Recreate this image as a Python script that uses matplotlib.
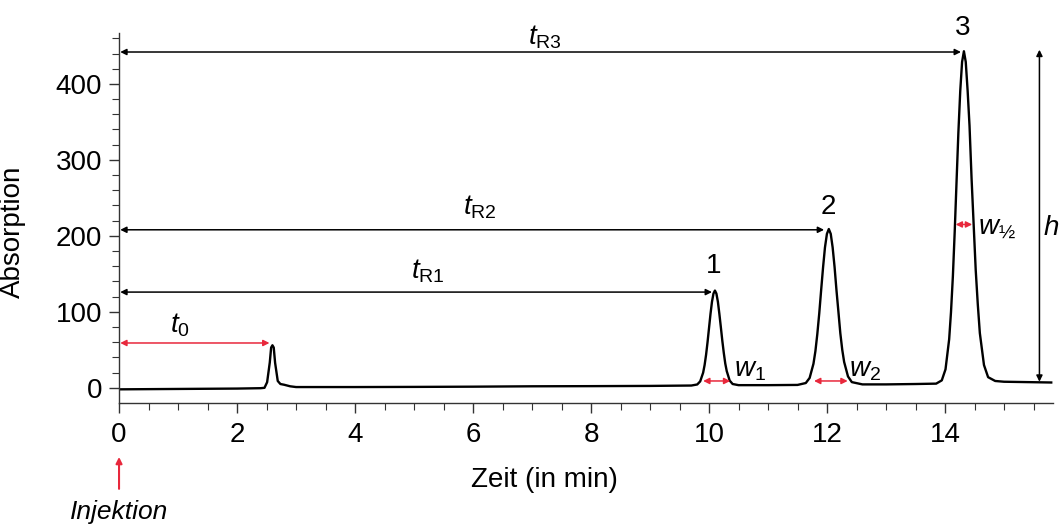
import matplotlib.pyplot as plt

plt.rcParams['font.family'] = ['Liberation Sans', 'DejaVu Sans']
plt.rcParams['mathtext.fontset'] = 'custom'
plt.rcParams['mathtext.rm'] = 'Liberation Sans'
plt.rcParams['mathtext.it'] = 'Liberation Sans:italic'

# chromatogram trace (time in min, absorption)
zeit = [0.0, 1.0, 2.0, 2.4, 2.465, 2.51, 2.555, 2.578, 2.6, 2.622, 2.645, 2.69, 2.735, 2.8, 2.9, 3.0,
        4.0, 5.0, 6.0, 7.0, 8.0, 9.0, 9.7,
        9.80, 9.85, 9.90, 9.925, 9.95, 9.975, 10.00, 10.025, 10.05, 10.075, 10.10, 10.125, 10.15,
        10.175, 10.20, 10.225, 10.25, 10.275, 10.30, 10.35, 10.40, 10.5,
        11.0, 11.5,
        11.64, 11.705, 11.77, 11.803, 11.835, 11.868, 11.90, 11.933, 11.965, 11.998, 12.03, 12.063, 12.095,
        12.128, 12.16, 12.193, 12.225, 12.258, 12.29, 12.355, 12.42, 12.6,
        13.0, 13.5, 13.85,
        13.945, 14.008, 14.07, 14.101, 14.133, 14.164, 14.195, 14.226, 14.258, 14.289, 14.32, 14.351, 14.383,
        14.415, 14.45, 14.485, 14.52, 14.555, 14.59, 14.66, 14.73, 14.85,
        15.0, 15.4, 15.8]
absorption = [-2.0, -1.5, -1.0, -0.5, 0.0, 7.4, 33.4, 53.0, 56.0, 53.0, 33.0, 9.0, 5.0, 4.0, 2.0, 1.0,
              1.0, 1.2, 1.5, 2.0, 2.2, 2.5, 3.0,
              4.4, 8.5, 19.9, 30.0, 43.6, 60.3, 78.9, 97.4, 113.3, 124.0, 128.0, 124.0, 113.3,
              97.4, 80.0, 62.0, 46.0, 32.0, 22.0, 9.5, 5.0, 3.5,
              3.5, 3.8,
              6.3, 13.0, 31.7, 48.3, 70.6, 97.9, 128.4, 158.8, 184.8, 202.6, 209.0, 202.6, 184.8,
              158.8, 128.4, 100.0, 72.0, 50.0, 34.0, 15.0, 7.5, 4.5,
              4.5, 5.0, 5.5,
              9.8, 24.3, 64.0, 99.6, 147.0, 205.6, 271.0, 335.7, 391.0, 429.0, 443.0, 429.0, 391.0,
              345.0, 275.0, 215.0, 155.0, 110.0, 72.0, 30.0, 14.0, 9.0,
              8.0, 7.5, 7.0]

x_ticks = [0, 2, 4, 6, 8, 10, 12, 14]
y_ticks = [0, 100, 200, 300, 400]

red = '#e8283c'

fig = plt.figure(figsize=(10.6, 5.24), dpi=100)
ax = fig.add_axes([0.1123, 0.2309, 0.8811, 0.7061])
ax.plot(zeit, absorption, color='black', lw=1.7, solid_joinstyle='round')

ax.set_xlim(0, 15.83)
ax.set_ylim(-20, 467)
ax.spines['top'].set_visible(False)
ax.spines['right'].set_visible(False)
for s in ('left', 'bottom'):
    ax.spines[s].set_linewidth(1.0)
    ax.spines[s].set_color('#333333')

ax.set_xticks(x_ticks)
ax.set_xticks([i * 0.5 for i in range(32)], minor=True)
ax.set_yticks(y_ticks)
ax.set_yticks(list(range(0, 461, 20)), minor=True)
ax.tick_params(axis='both', which='major', labelsize=20, length=7, width=1, color='#333333')
ax.tick_params(axis='both', which='minor', length=5, width=0.8, color='#333333')
ax.tick_params(axis='x', pad=7)
ax.tick_params(axis='y', pad=5)

ax.set_xlabel('Zeit (in min)', fontsize=20)
ax.xaxis.set_label_coords(0.455, -0.173)
ax.set_ylabel('Absorption', fontsize=20)
ax.yaxis.set_label_coords(-0.1, 0.462)


def harrow(x0, x1, y, color='black'):
    ax.annotate('', xy=(x1, y), xytext=(x0, y),
                arrowprops=dict(arrowstyle='<|-|>', color=color, lw=1.1,
                                mutation_scale=9, shrinkA=0, shrinkB=0))


# retention time arrows
harrow(0.02, 14.27, 442)
harrow(0.02, 11.95, 208)
harrow(0.02, 10.05, 126)
harrow(0.02, 2.55, 59, red)
# peak widths
harrow(9.9, 10.36, 9, red)
harrow(11.78, 12.35, 9, red)
harrow(14.18, 14.46, 215, red)
# peak height
ax.annotate('', xy=(15.6, 445), xytext=(15.6, 8),
            arrowprops=dict(arrowstyle='<|-|>', color='black', lw=1.1,
                            mutation_scale=9, shrinkA=0, shrinkB=0))

fs = 20
ax.text(7.22, 462, r'$t_{\mathrm{R3}}$', fontsize=fs, ha='center', va='center')
ax.text(6.12, 238, r'$t_{\mathrm{R2}}$', fontsize=fs, ha='center', va='center')
ax.text(5.24, 153, r'$t_{\mathrm{R1}}$', fontsize=fs, ha='center', va='center')
ax.text(1.03, 83, r'$t_{0}$', fontsize=fs, ha='center', va='center')
ax.text(10.07, 160, '1', fontsize=fs, ha='center', va='center')
ax.text(12.02, 238, '2', fontsize=fs, ha='center', va='center')
ax.text(14.3, 473, '3', fontsize=fs, ha='center', va='center', clip_on=False)
ax.text(10.42, 24, r'$w_{1}$', fontsize=fs, ha='left', va='center')
ax.text(12.38, 24, r'$w_{2}$', fontsize=fs, ha='left', va='center')
ax.text(14.56, 210, r'$w_{\mathrm{½}}$', fontsize=fs, ha='left', va='center')
ax.text(15.66, 210, r'$h$', fontsize=fs, ha='left', va='center', clip_on=False)

# injection marker
ax.annotate('', xy=(0, -91), xytext=(0, -133), xycoords='data',
            arrowprops=dict(arrowstyle='-|>', color=red, lw=1.5,
                            mutation_scale=9, shrinkA=0, shrinkB=0),
            annotation_clip=False)
ax.text(0, -163, 'Injektion', fontsize=19, style='italic', ha='center', va='center',
        clip_on=False)

fig.savefig('out.png', dpi=100)
